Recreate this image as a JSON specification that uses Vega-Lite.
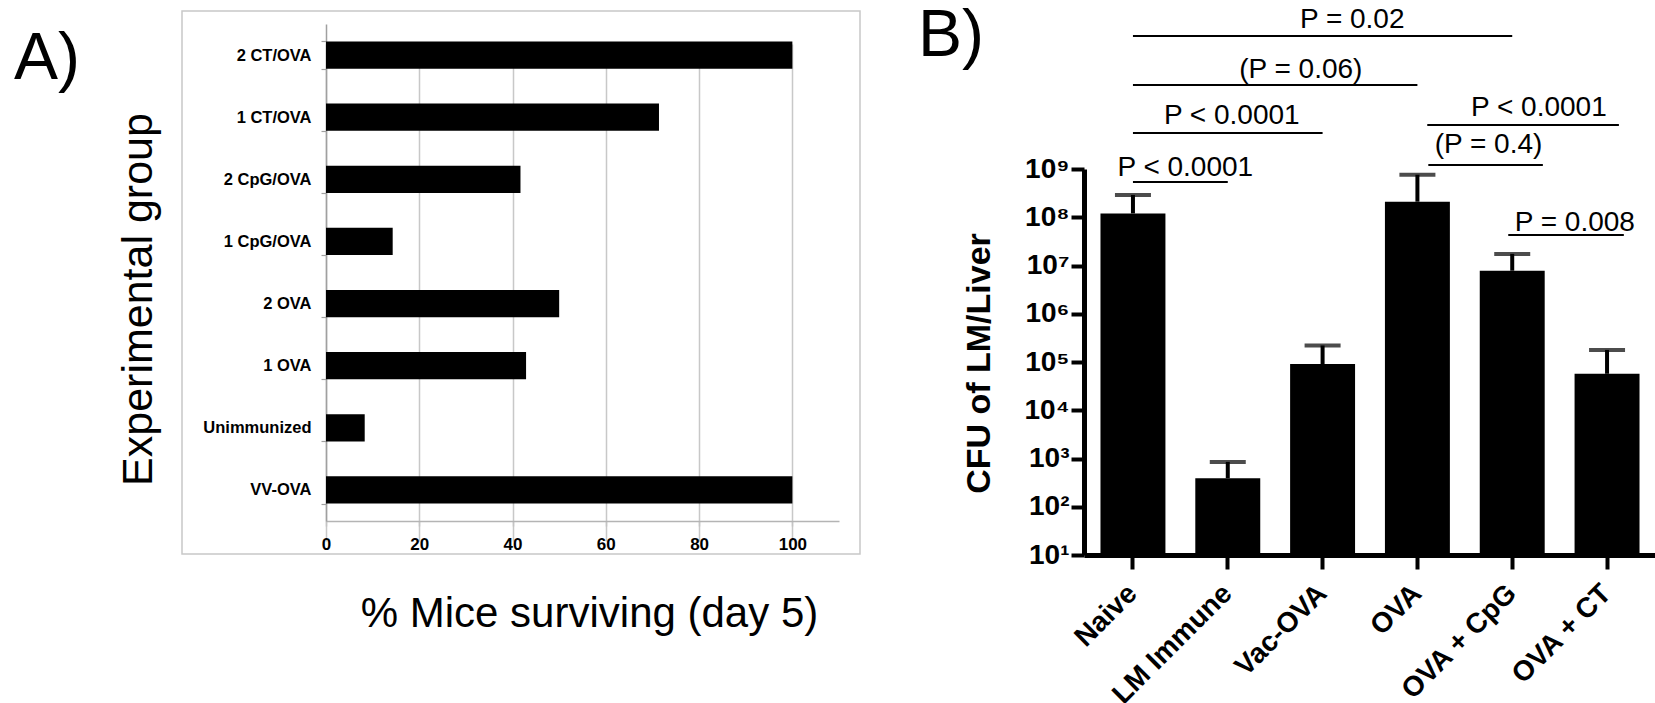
{
  "$schema": "https://vega.github.io/schema/vega-lite/v6.json",
  "background": "white",
  "padding": {"left": 13, "top": 2, "right": 0, "bottom": 0},
  "config": {"font": "Liberation Sans", "view": {"stroke": null}},
  "spacing": 224,
  "bounds": "flush",
  "hconcat": [
    {
      "width": 678,
      "height": 543,
      "view": {"stroke": "#c8c8c8", "strokeWidth": 1.5},
      "title": {"text": "A)", "anchor": "start", "orient": "top", "frame": "group", "fontSize": 66, "fontWeight": "normal", "color": "#000", "baseline": "alphabetic", "offset": 0, "dx": -168, "dy": 142},
      "data": {"values": [
        {"group": "2 CT/OVA", "pct": 100},
        {"group": "1 CT/OVA", "pct": 71.4},
        {"group": "2 CpG/OVA", "pct": 41.7},
        {"group": "1 CpG/OVA", "pct": 14.3},
        {"group": "2 OVA", "pct": 50},
        {"group": "1 OVA", "pct": 42.9},
        {"group": "Unimmunized", "pct": 8.3},
        {"group": "VV-OVA", "pct": 100}
      ]},
      "mark": {"type": "bar", "color": "#000"},
      "encoding": {
        "y": {
          "field": "group", "type": "nominal", "sort": null,
          "scale": {"range": [13, 510], "paddingInner": 0.56, "paddingOuter": 0.28},
          "axis": {
            "orient": "left", "offset": -144,
            "title": "Experimental group", "titleFontSize": 43, "titleFontWeight": "normal", "titleColor": "#000",
            "titleX": -188, "titleY": 288, "titleAngle": -90, "titleBaseline": "middle", "titleAlign": "center",
            "labelFontSize": 16.5, "labelFontWeight": "bold", "labelColor": "#000", "labelPadding": 10,
            "tickBand": "extent", "tickSize": 5, "tickColor": "#a0a0a0", "tickWidth": 1.2,
            "domainColor": "#a0a0a0", "domainWidth": 1.5, "grid": false
          }
        },
        "x": {
          "field": "pct", "type": "quantitative",
          "scale": {"domain": [0, 110], "range": [144, 657], "nice": false, "zero": false},
          "axis": {
            "orient": "bottom", "offset": -33, "values": [0, 20, 40, 60, 80, 100],
            "title": "% Mice surviving (day 5)", "titleFontSize": 42, "titleFontWeight": "normal", "titleColor": "#000",
            "titleX": 407, "titleY": 105, "titleBaseline": "alphabetic", "titleAlign": "center",
            "labelFontSize": 17, "labelFontWeight": "bold", "labelColor": "#000", "labelPadding": 10, "labelFlush": false,
            "tickSize": 5, "tickColor": "#c4c4c4", "tickWidth": 1.5,
            "domainColor": "#b4b4b4", "domainWidth": 1.5,
            "grid": true, "gridColor": "#c8c8c8", "gridWidth": 1.5
          }
        }
      }
    },
    {
      "width": 572,
      "height": 544,
      "title": {"text": "B)", "anchor": "start", "orient": "top", "frame": "group", "fontSize": 66, "fontWeight": "normal", "color": "#000", "baseline": "alphabetic", "offset": 0, "dx": -166, "dy": 116},
      "layer": [
        {
          "data": {"values": [
            {"group": "Naive", "mean": 120000000, "upper": 290000000},
            {"group": "LM Immune", "mean": 390, "upper": 850},
            {"group": "Vac-OVA", "mean": 91000, "upper": 220000},
            {"group": "OVA", "mean": 210000000, "upper": 760000000},
            {"group": "OVA + CpG", "mean": 7800000, "upper": 17400000},
            {"group": "OVA + CT", "mean": 57000, "upper": 178000}
          ]},
          "layer": [
            {
              "mark": {"type": "rule", "strokeWidth": 4, "color": "#000"},
              "encoding": {
                "x": {
                  "field": "group", "type": "nominal", "sort": null,
                  "scale": {"paddingInner": 0.315, "paddingOuter": 0.1738},
                  "axis": {
                    "orient": "bottom", "title": null,
                    "labelAngle": -45, "labelAlign": "right", "labelBaseline": "middle",
                    "labelFontSize": 28, "labelFontWeight": "bold", "labelColor": "#000", "labelPadding": 20, "labelLimit": 400,
                    "tickSize": 14, "tickWidth": 4, "tickColor": "#000",
                    "domainColor": "#000", "domainWidth": 5, "grid": false
                  }
                },
                "y": {
                  "field": "mean", "type": "quantitative", "title": "CFU of LM/Liver",
                  "scale": {"type": "log", "domain": [10, 1000000000], "range": [544, 158], "nice": false},
                  "axis": {
                    "orient": "left",
                    "values": [10, 100, 1000, 10000, 100000, 1000000, 10000000, 100000000, 1000000000],
                    "labelExpr": "'10' + ['⁰','¹','²','³','⁴','⁵','⁶','⁷','⁸','⁹'][round(log(datum.value)/LN10)]",
                    "labelFontSize": 28, "labelFontWeight": "bold", "labelColor": "#000", "labelPadding": 2,
                    "labelFlush": false, "labelOverlap": false,
                    "tickSize": 13, "tickWidth": 4, "tickColor": "#000",
                    "domainColor": "#000", "domainWidth": 5, "grid": false,
                    "titleFontSize": 34, "titleFontWeight": "bold", "titleColor": "#000",
                    "titleX": -105, "titleY": 352, "titleAngle": -90, "titleBaseline": "middle", "titleAlign": "center"
                  }
                },
                "y2": {"field": "upper"}
              }
            },
            {
              "mark": {"type": "tick", "orient": "horizontal", "size": 36, "thickness": 4, "color": "#000"},
              "encoding": {
                "x": {"field": "group", "type": "nominal", "sort": null},
                "y": {"field": "upper", "type": "quantitative", "title": "CFU of LM/Liver"}
              }
            },
            {
              "mark": {"type": "bar", "color": "#000"},
              "encoding": {
                "x": {"field": "group", "type": "nominal", "sort": null},
                "y": {"field": "mean", "type": "quantitative", "title": "CFU of LM/Liver"},
                "y2": {"datum": 10}
              }
            }
          ]
        },
        {
          "data": {"values": [
            {"label": "P < 0.0001", "x1": 0, "x2": 1, "xt": 0.552, "ly": 538000000, "ty": 716000000},
            {"label": "P < 0.0001", "x1": 0, "x2": 2, "xt": 1.042, "ly": 5570000000, "ty": 8570000000},
            {"label": "(P = 0.06)", "x1": 0, "x2": 3, "xt": 1.77, "ly": 55100000000, "ty": 76900000000},
            {"label": "P = 0.02", "x1": 0, "x2": 4, "xt": 2.3125, "ly": 570000000000, "ty": 836000000000},
            {"label": "P < 0.0001", "x1": 3.104, "x2": 5.125, "xt": 4.281, "ly": 8170000000, "ty": 12500000000},
            {"label": "(P = 0.4)", "x1": 3.115, "x2": 4.323, "xt": 3.75, "ly": 1210000000, "ty": 2150000000},
            {"label": "P = 0.008", "x1": 3.958, "x2": 5.177, "xt": 4.66, "ly": 42900000, "ty": 51900000}
          ]},
          "layer": [
            {
              "mark": {"type": "rule", "strokeWidth": 2, "color": "#000", "clip": false},
              "encoding": {
                "x": {"field": "x1", "type": "quantitative", "scale": {"domain": [0, 5], "range": [48.95, 523.05], "nice": false, "zero": false}, "axis": null},
                "x2": {"field": "x2"},
                "y": {"field": "ly", "type": "quantitative", "title": "CFU of LM/Liver"}
              }
            },
            {
              "mark": {"type": "text", "fontSize": 28, "baseline": "alphabetic", "align": "center", "color": "#000", "clip": false},
              "encoding": {
                "x": {"field": "xt", "type": "quantitative"},
                "y": {"field": "ty", "type": "quantitative", "title": "CFU of LM/Liver"},
                "text": {"field": "label"}
              }
            }
          ]
        }
      ],
      "resolve": {"scale": {"x": "independent"}}
    }
  ]
}
